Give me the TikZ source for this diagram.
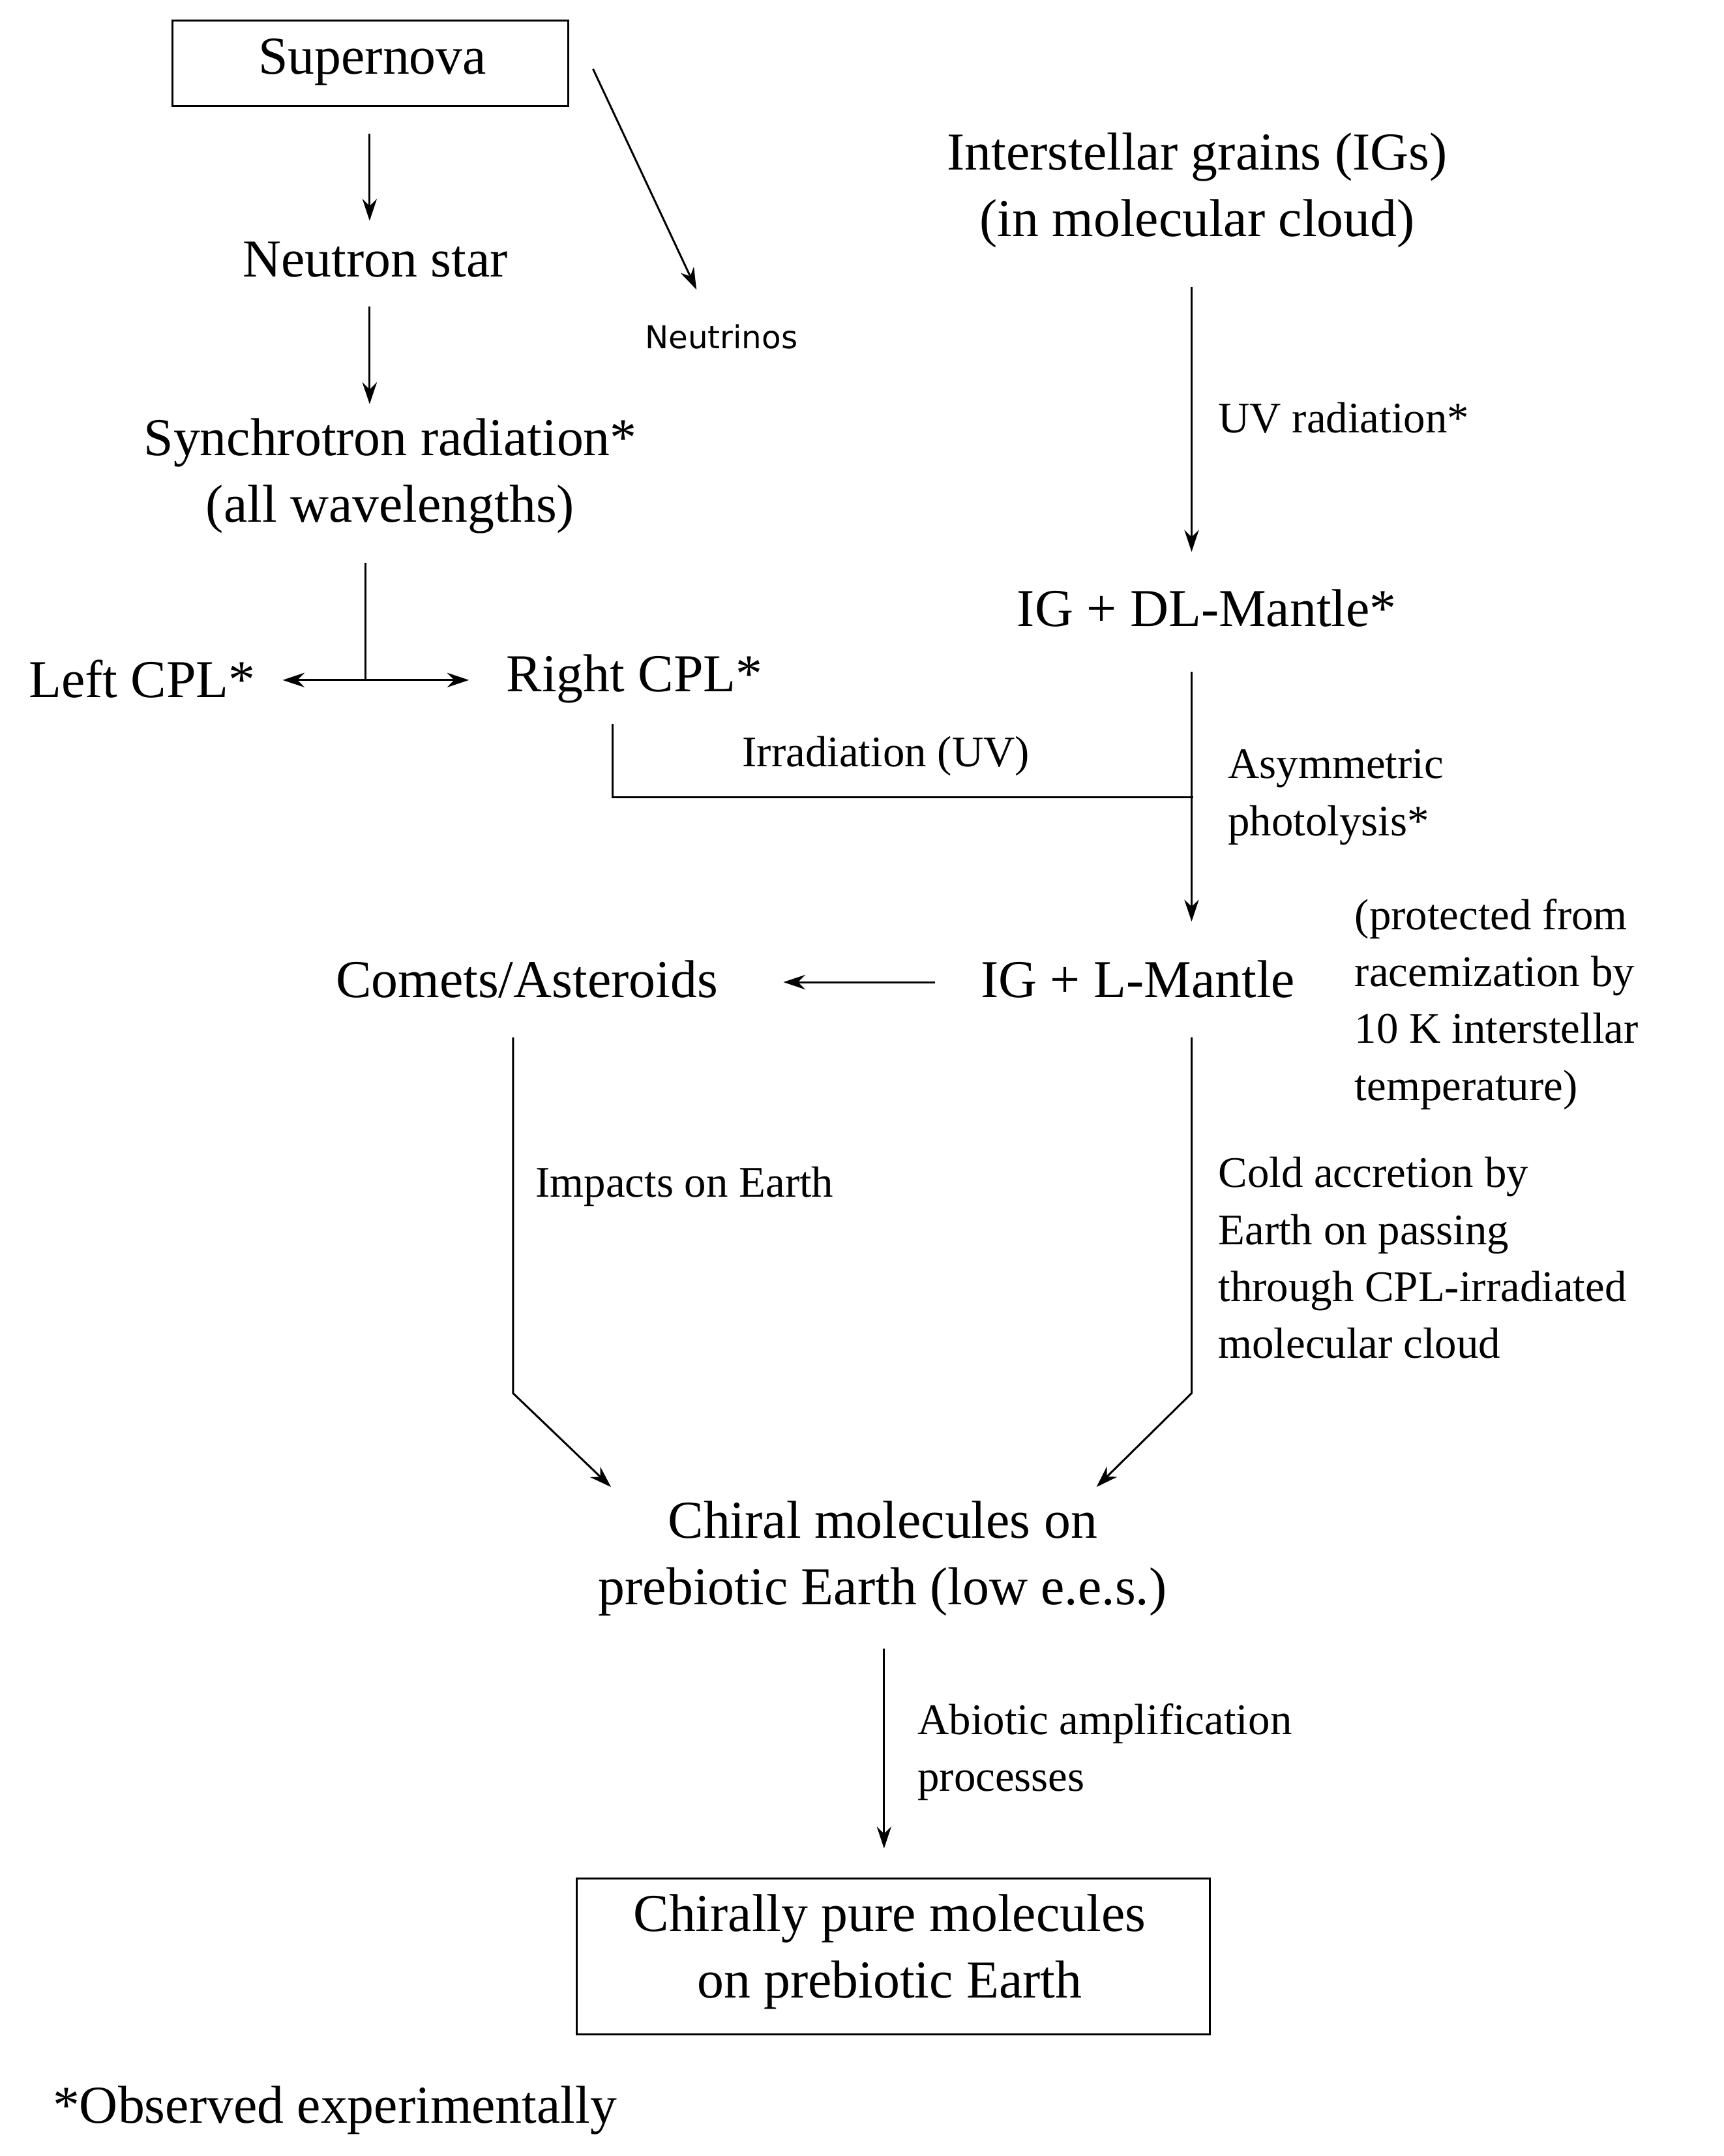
\documentclass[tikz,border=0pt]{standalone}
\usepackage{fontspec}
\setmainfont{Liberation Serif}
\newfontfamily\sansfont{DejaVu Sans}
\usetikzlibrary{arrows.meta}
\begin{document}
\begin{tikzpicture}[x=0.02cm,y=-0.02cm,
    big/.style={font=\fontsize{22}{27.5}\selectfont, align=center, inner sep=0pt},
    lab/.style={font=\fontsize{18}{23.5}\selectfont, align=left, anchor=west, inner sep=0pt},
    arr/.style={-{Stealth[length=9pt,width=6pt]}, line width=0.8pt},
    ln/.style={line width=0.8pt}]
    \useasboundingbox (0,0) rectangle (1250,1563);
    % boxes and main texts
    \draw[ln] (125,15) rectangle (412,77);
    \node[big] (sn) at (270,45) {Supernova};
    \node[big] (ns) at (272,188) {Neutron star};
    \node[font=\sansfont\fontsize{13}{15}\selectfont] (nu) at (523,244) {Neutrinos};
    \node[big] (sy) at (283,345) {Synchrotron radiation*\\(all wavelengths)};
    \node[big] (lc) at (103,492) {Left CPL*};
    \node[big] (rc) at (460,492) {Right CPL*};
    \node[big] (ig) at (868,138) {Interstellar grains (IGs)\\(in molecular cloud)};
    \node[big] (dl) at (875,441) {IG + DL-Mantle*};
    \node[big] (lm) at (825,710) {IG + L-Mantle};
    \node[big] (ca) at (382,710) {Comets/Asteroids};
    \node[big] (ch) at (640,1130) {Chiral molecules on\\prebiotic Earth (low e.e.s.)};
    \draw[ln] (418,1362) rectangle (877,1475);
    \node[big] (cp) at (645,1415) {Chirally pure molecules\\on prebiotic Earth};
    \node[big, anchor=west] (ft) at (38,1530) {*Observed experimentally};
    % labels
    \node[lab] (uv) at (883,303) {UV radiation*};
    \node[lab] (ir) at (538,548) {Irradiation (UV)};
    \node[lab] (ap) at (890,578) {Asymmetric\\photolysis*};
    \node[lab] (pr) at (982,728) {(protected from\\racemization by\\10 K interstellar\\temperature)};
    \node[lab] (im) at (388,860) {Impacts on Earth};
    \node[lab] (co) at (883,912) {Cold accretion by\\Earth on passing\\through CPL-irradiated\\molecular cloud};
    \node[lab] (ab) at (665,1270) {Abiotic amplification\\processes};
    % connector points
    \coordinate (snb) at (268,97);   \coordinate (nst) at (268,160);
    \coordinate (snr) at (430,50);   \coordinate (nut) at (505,210);
    \coordinate (nsb) at (268,222);  \coordinate (syt) at (268,293);
    \coordinate (syb) at (265,408);  \coordinate (sj) at (265,493);
    \coordinate (lce) at (205,493);  \coordinate (rcw) at (340,493);
    \coordinate (rcb) at (444,525);  \coordinate (rcc) at (444,578);
    \coordinate (mj) at (865,578);
    \coordinate (igb) at (864,208);  \coordinate (dlt) at (864,400);
    \coordinate (dlb) at (864,487);  \coordinate (lmt) at (864,668);
    \coordinate (lmw) at (678,712);  \coordinate (cae) at (568,712);
    \coordinate (cab) at (372,752);  \coordinate (cak) at (372,1010);
    \coordinate (chl) at (443,1078);
    \coordinate (lmb) at (864,752);  \coordinate (lmk) at (864,1010);
    \coordinate (chr) at (795,1078);
    \coordinate (chb) at (641,1195); \coordinate (cpt) at (641,1340);
    % connectors
    \draw[arr] (snb) -- (nst);
    \draw[arr] (snr) -- (nut);
    \draw[arr] (nsb) -- (syt);
    \draw[ln] (syb) -- (sj);
    \draw[arr] (sj) -- (lce);
    \draw[arr] (sj) -- (rcw);
    \draw[ln] (rcb) -- (rcc) -- (mj);
    \draw[arr] (igb) -- (dlt);
    \draw[arr] (dlb) -- (lmt);
    \draw[arr] (lmw) -- (cae);
    \draw[arr] (cab) -- (cak) -- (chl);
    \draw[arr] (lmb) -- (lmk) -- (chr);
    \draw[arr] (chb) -- (cpt);
\end{tikzpicture}
\end{document}
